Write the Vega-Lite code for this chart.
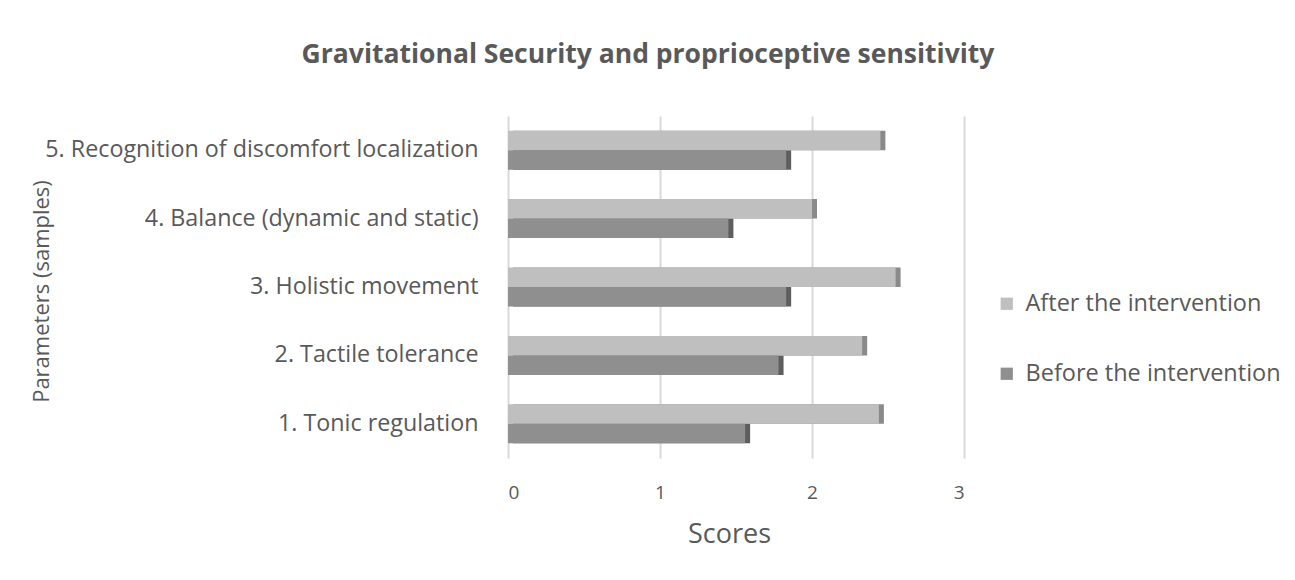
{
  "$schema": "https://vega.github.io/schema/vega-lite/v6.json",
  "autosize": {"type": "none"},
  "width": 456,
  "height": 342,
  "padding": {"left": 508, "top": 116, "right": 331, "bottom": 122},
  "background": "white",
  "config": {"view": {"stroke": null}, "font": "Open Sans"},
  "title": {
    "text": "Gravitational Security and proprioceptive sensitivity",
    "font": "Open Sans",
    "fontSize": 26.5,
    "fontWeight": "bold",
    "color": "#595959",
    "anchor": "middle",
    "dx": -88,
    "offset": 48
  },
  "data": {
    "values": [
      {"parameter": "5. Recognition of discomfort localization", "series": "After the intervention", "score": 2.45},
      {"parameter": "5. Recognition of discomfort localization", "series": "Before the intervention", "score": 1.83},
      {"parameter": "4. Balance (dynamic and static)", "series": "After the intervention", "score": 2.0},
      {"parameter": "4. Balance (dynamic and static)", "series": "Before the intervention", "score": 1.45},
      {"parameter": "3. Holistic movement", "series": "After the intervention", "score": 2.55},
      {"parameter": "3. Holistic movement", "series": "Before the intervention", "score": 1.83},
      {"parameter": "2. Tactile tolerance", "series": "After the intervention", "score": 2.33},
      {"parameter": "2. Tactile tolerance", "series": "Before the intervention", "score": 1.78},
      {"parameter": "1. Tonic regulation", "series": "After the intervention", "score": 2.44},
      {"parameter": "1. Tonic regulation", "series": "Before the intervention", "score": 1.56}
    ]
  },
  "encoding": {
    "y": {
      "field": "parameter",
      "type": "nominal",
      "sort": "descending",
      "scale": {"paddingInner": 0.43, "paddingOuter": 0.215},
      "axis": {
        "title": "Parameters (samples)",
        "titleFont": "Open Sans",
        "titleFontSize": 22,
        "titleFontWeight": "normal",
        "titleColor": "#595959",
        "titleAngle": -90,
        "titleX": -467,
        "titleY": 175,
        "titleAlign": "center",
        "titleBaseline": "middle",
        "labelFont": "Open Sans",
        "labelFontSize": 23.3,
        "labelColor": "#595959",
        "labelPadding": 30,
        "labelLimit": 600,
        "ticks": false,
        "domain": false
      }
    },
    "yOffset": {
      "field": "series",
      "type": "nominal",
      "sort": ["After the intervention", "Before the intervention"]
    },
    "x": {
      "field": "score",
      "type": "quantitative",
      "scale": {"domain": [0, 3], "nice": false},
      "axis": {
        "title": "Scores",
        "titleFont": "Open Sans",
        "titleFontSize": 27,
        "titleFontWeight": "normal",
        "titleColor": "#595959",
        "titlePadding": 19,
        "titleX": 221,
        "labelFont": "Open Sans",
        "labelFontSize": 19,
        "labelColor": "#595959",
        "labelPadding": 25,
        "values": [0, 1, 2, 3],
        "format": "d",
        "grid": true,
        "gridColor": "#d9d9d9",
        "gridWidth": 2,
        "ticks": false,
        "domain": false
      }
    }
  },
  "layer": [
    {
      "mark": {"type": "bar", "xOffset": 5, "yOffset": -4},
      "encoding": {
        "color": {
          "field": "series",
          "type": "nominal",
          "scale": {"domain": ["After the intervention", "Before the intervention"], "range": ["#8a8a8a", "#5e5e5e"]},
          "legend": null
        }
      }
    },
    {
      "mark": {"type": "bar"},
      "encoding": {
        "color": {
          "field": "series",
          "type": "nominal",
          "scale": {"domain": ["After the intervention", "Before the intervention"], "range": ["#bfbfbf", "#8f8f8f"]},
          "legend": {
            "title": null,
            "orient": "none",
            "legendX": 487,
            "legendY": 176,
            "symbolType": "square",
            "symbolSize": 150,
            "symbolStrokeWidth": 0,
            "labelFont": "Open Sans",
            "labelFontSize": 23.5,
            "labelColor": "#595959",
            "labelOffset": 7,
            "labelLimit": 400,
            "rowPadding": 45
          }
        }
      }
    }
  ],
  "resolve": {"scale": {"color": "independent"}}
}
